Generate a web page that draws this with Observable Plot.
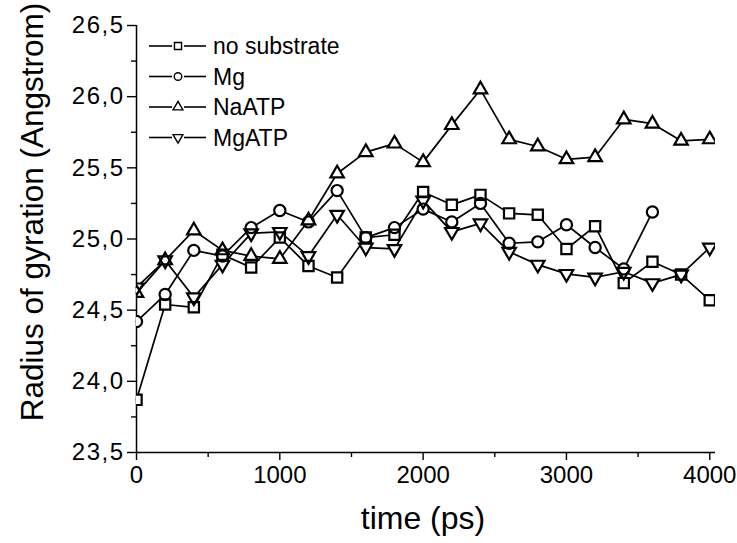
<!DOCTYPE html>
<html>
<head>
<meta charset="utf-8">
<script src="https://cdn.jsdelivr.net/npm/d3@7"></script>
<script src="https://cdn.jsdelivr.net/npm/@observablehq/plot@0.6"></script>
<style>
  html, body { margin: 0; padding: 0; background: #fff; }
  #chart { width: 737px; height: 543px; }
  svg { font-family: "Liberation Sans", Arial, sans-serif; }
</style>
</head>
<body>
<div id="chart"></div>
<script>
// ---- data ----
const time = [0, 200, 400, 600, 800, 1000, 1200, 1400, 1600, 1800, 2000, 2200, 2400, 2600, 2800, 3000, 3200, 3400, 3600, 3800, 4000];
const noSubstrate = [23.87, 24.54, 24.52, 24.89, 24.80, 25.01, 24.81, 24.73, 25.01, 25.03, 25.33, 25.24, 25.31, 25.18, 25.17, 24.93, 25.09, 24.69, 24.84, 24.75, 24.57];
const mg = [24.42, 24.61, 24.92, 24.88, 25.08, 25.20, 25.12, 25.34, 25.01, 25.08, 25.21, 25.12, 25.25, 24.97, 24.98, 25.10, 24.94, 24.79, 25.19];
const naATP = [24.62, 24.85, 25.06, 24.92, 24.88, 24.86, 25.13, 25.46, 25.61, 25.67, 25.54, 25.80, 26.05, 25.70, 25.65, 25.56, 25.575, 25.84, 25.81, 25.69, 25.70];
const mgATP = [24.66, 24.85, 24.59, 24.82, 25.04, 25.05, 24.88, 25.17, 24.94, 24.93, 25.27, 25.05, 25.11, 24.91, 24.82, 24.755, 24.73, 24.77, 24.69, 24.75, 24.94];
const seriesNames = ["no substrate", "Mg", "NaATP", "MgATP"];
const yMajorTicks = [23.5, 24.0, 24.5, 25.0, 25.5, 26.0, 26.5];
const yMinorTicks = [23.75, 24.25, 24.75, 25.25, 25.75, 26.25];
const xMajorTicks = [0, 1000, 2000, 3000, 4000];
const xMinorTicks = [500, 1500, 2500, 3500];
const xTitle = "time (ps)";
const yTitle = "Radius of gyration (Angstrom)";

// ---- symbols ----
const triangleDown = {
  draw(context, size) {
    const y = -Math.sqrt(size / (Math.sqrt(3) * 3));
    context.moveTo(0, -y * 2);
    context.lineTo(-Math.sqrt(3) * y, y);
    context.lineTo(Math.sqrt(3) * y, y);
    context.closePath();
  }
};
const symbols = [d3.symbolSquare, d3.symbolCircle, d3.symbolTriangle, triangleDown];
const radii = [5.8, 5.6, 5.0, 5.0];

const allValues = [noSubstrate, mg, naATP, mgATP];
const series = allValues.map((vals, i) =>
  vals.map((v, j) => ({time: time[j], value: v, name: seriesNames[i]}))
);

const fmt = d => d.toFixed(1).replace(".", ",");
const font = "Liberation Sans, Arial, sans-serif";

const marks = [
  Plot.ruleX([0], {stroke: "black", strokeWidth: 1.5}),
  Plot.ruleY([23.5], {stroke: "black", strokeWidth: 1.5}),
  Plot.axisY(yMajorTicks, {label: null, tickSize: 9, tickPadding: 3, tickFormat: fmt, fontSize: 24, stroke: "black", strokeWidth: 1.4, fill: "black"}),
  Plot.axisY(yMinorTicks, {label: null, tickSize: 5, tickFormat: () => "", stroke: "black", strokeWidth: 1.4}),
  Plot.axisX(xMajorTicks, {label: null, tickSize: 8, tickPadding: 5, tickFormat: d => String(d), fontSize: 24, stroke: "black", strokeWidth: 1.4, fill: "black"}),
  Plot.axisX(xMinorTicks, {label: null, tickSize: 5, tickFormat: () => "", stroke: "black", strokeWidth: 1.4}),
];
series.forEach(s => marks.push(Plot.line(s, {x: "time", y: "value", stroke: "black", strokeWidth: 1.7})));
series.forEach((s, i) => marks.push(Plot.dot(s, {x: "time", y: "value", symbol: symbols[i], r: radii[i], fill: "white", stroke: "none", clip: true})));
series.forEach((s, i) => marks.push(Plot.dot(s, {x: "time", y: "value", symbol: symbols[i], r: radii[i], fill: "none", stroke: "black", strokeWidth: 2.2, clip: true})));

const plot = Plot.plot({
  width: 737,
  height: 543,
  marginLeft: 136,
  marginRight: 22,
  marginTop: 25,
  marginBottom: 91,
  style: {fontFamily: font, background: "white", color: "black"},
  x: {domain: [0, 4040], axis: null},
  y: {domain: [23.5, 26.5], axis: null},
  marks
});
document.getElementById("chart").appendChild(plot);

const svg = d3.select(plot);
// widen the comma tick labels a little, as in the reference
svg.selectAll("text").filter(function() { return this.textContent.includes(","); })
  .style("letter-spacing", "1.5px");

// ---- axis titles ----
svg.append("text").attr("x", 423).attr("y", 529).attr("text-anchor", "middle")
  .attr("font-size", 32).attr("font-family", font).attr("fill", "black").text(xTitle);
svg.append("text").attr("transform", "translate(43,212) rotate(-90)").attr("text-anchor", "middle")
  .attr("font-size", 31.5).attr("font-family", font).attr("fill", "black").text(yTitle);

// ---- legend inside the frame ----
const lg = svg.append("g").attr("class", "legend");
const legSizes = [50, 45, 42, 42];
seriesNames.forEach((name, i) => {
  const cy = 46 + 30.5 * i;
  const g = lg.append("g").attr("transform", `translate(0,${cy})`);
  g.append("line").attr("x1", 149).attr("x2", 172).attr("y1", 0).attr("y2", 0).attr("stroke", "black").attr("stroke-width", 1.6);
  g.append("line").attr("x1", 184).attr("x2", 206).attr("y1", 0).attr("y2", 0).attr("stroke", "black").attr("stroke-width", 1.6);
  g.append("path").attr("transform", "translate(178,0)").attr("d", d3.symbol(symbols[i], legSizes[i])()).attr("fill", "none").attr("stroke", "black").attr("stroke-width", 1.4);
  g.append("text").attr("x", 213).attr("y", 8).attr("text-anchor", "start").attr("font-size", 23).attr("font-family", font).attr("fill", "black").text(name);
});
</script>
</body>
</html>
